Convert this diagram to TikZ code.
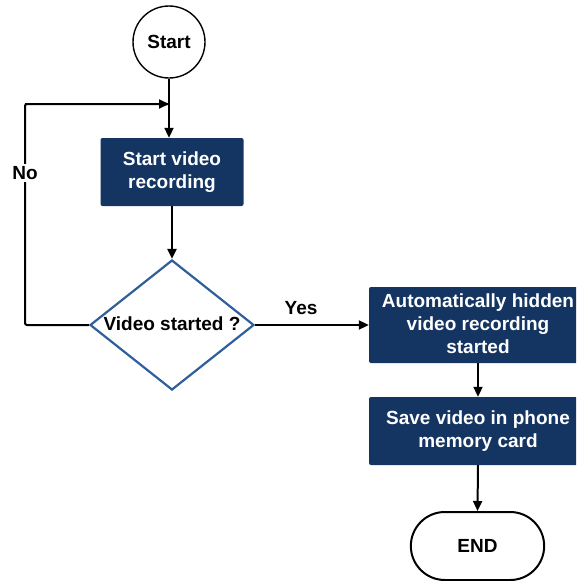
\documentclass[tikz,border=0pt]{standalone}
\usepackage{fontspec}
\setmainfont{Liberation Sans}
\usetikzlibrary{arrows.meta,shapes.geometric,shapes.misc}
\definecolor{navy}{HTML}{143562}
\definecolor{rimblue}{HTML}{2E5E9C}
\tikzset{
  every node/.style={font=\fontsize{19}{23}\selectfont\bfseries},
  procbox/.style={fill=navy, text=white, rounded corners=2pt, align=center, inner sep=0pt},
  conn/.style={line width=2pt, -{Triangle[length=10pt,width=9pt]}},
  plain/.style={line width=2pt},
  lbl/.style={text=black}
}
\begin{document}
\begin{tikzpicture}[x=1pt,y=-1pt]
\useasboundingbox (0,0) rectangle (576,581);
\clip (0,0) rectangle (576,581);
% start terminal
\node[draw, circle, line width=1.4pt, minimum size=72pt, inner sep=0pt] (start) at (169,42) {Start};
% process boxes
\node[procbox, minimum width=143pt, minimum height=68pt] (rec) at (172,172) {Start video\\recording};
\node[draw=rimblue, line width=2.2pt, diamond, aspect=1.26, minimum width=164pt, minimum height=130pt, inner sep=0pt] (dec) at (172,325) {};
\node at ([yshift=1pt]dec.center) {Video started ?};
\node[procbox, minimum width=218pt, minimum height=76pt] (auto) at (478,325) {};
\node[text=white, align=center] at ([yshift=1.5pt]auto.center) {Automatically hidden\\video recording\\started};
\node[procbox, minimum width=218pt, minimum height=68pt] (save) at (478,431) {Save video in phone\\memory card};
\node[draw, rounded rectangle, line width=2pt, minimum width=140pt, minimum height=68pt] (stop) at (477.5,546) {END};
% connectors
\coordinate (loopA) at (25,325);
\coordinate (loopB) at (25,104);
\coordinate (merge) at (169,104);
\draw[conn] (start.south) -- (start.south |- rec.north);
\draw[conn] (rec.south) -- (dec.north);
\draw[plain, rounded corners=2pt] (dec.west) -- (loopA) -- (loopB) -- ([xshift=-1pt]merge);
\draw[conn] (loopB) -- (merge);
\node[lbl, fill=white, inner sep=2pt] (no) at (25,173) {No};
\draw[conn] (dec.east) -- (auto.west);
\node[lbl] (yes) at (301,308) {Yes};
\draw[conn] (auto.south) -- (save.north);
\draw[conn] (save.south) -- (stop.north);
\end{tikzpicture}
\end{document}
